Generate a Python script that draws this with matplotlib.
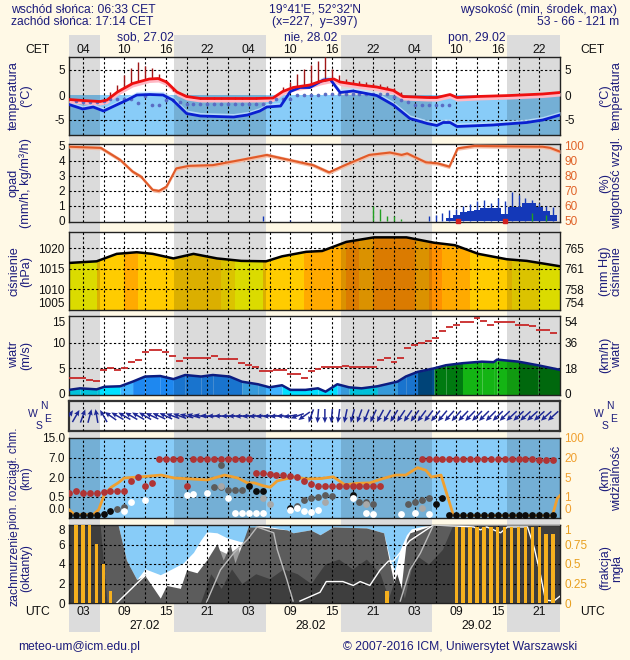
import numpy as np
import matplotlib.pyplot as plt
from matplotlib.patches import Rectangle

plt.rcParams['font.family'] = ['Liberation Sans', 'DejaVu Sans']

# ---------------- data (time in hours from 00 UTC 27.02) ----------------
nights = [(1.0, 5.55), (16.23, 29.52), (40.27, 53.48), (64.3, 72.0)]
hours = np.arange(1, 72)

# temperature panel
temp_t = [1, 3, 5.5, 6.5, 8, 10.2, 12.6, 13.9, 15.1, 16.6, 18, 20, 24, 28, 30.5, 31.9, 33.4,
          35.8, 37.3, 38.7, 39.3, 40.2, 43.1, 45.5, 47.9, 49.3, 52.8, 54.2, 56.1, 57.1, 60,
          64.7, 69.5, 72]
temp_v = [-0.9, -1.1, -1.3, -1.0, 0.6, 2.3, 3.2, 3.3, 2.6, 0.6, -0.3, -0.7, -0.7, -0.7, -0.6,
          0.7, 1.5, 2.0, 2.7, 3.1, 3.2, 2.6, 2.0, 1.6, 0.9, -0.3, -0.5, -0.5, 0.1, -0.5, -0.3,
          -0.1, 0.2, 0.5]
dew_t = [1, 3, 4.5, 6, 8, 9.4, 10.8, 12.7, 14.6, 16, 18, 20, 24.8, 26.8, 28.6, 29.6, 31.6, 33,
         34.4, 35.8, 37.8, 38.8, 40.2, 42.1, 45.5, 47.9, 50.3, 52.8, 54.2, 55.1, 56.1, 57.1,
         62.3, 67.2, 69.5, 72]
dew_v = [-1.9, -2.8, -2.4, -3.2, -1.9, -1.0, 0.0, 0.1, 0.0, -1.0, -3.7, -4.2, -4.4, -4.0, -3.2,
         -2.4, -2.2, 0.7, 1.5, 1.5, 3.0, 3.1, 0.5, 0.8, -0.1, -2.0, -4.7, -5.7, -6.1, -5.5,
         -5.5, -6.3, -6.0, -5.5, -5.0, -4.0]
dot_t = list(range(2, 57))
dot_v = [-1.2, -1.3, -1.3, -1.3, -1.2, -0.7, -0.7, -0.7, -0.7, -1.6, -0.2, -1.9, -1.9, -0.9,
         -1.0, -1.3, -1.8, -1.8, -1.8, -1.8, -1.8, -1.8, -1.8, -1.8, -1.8, -1.8, -1.8, -1.8,
         -1.3, -0.7, -0.7, -0.7, 0.0, 0.0, 0.0, 0.0, 0.3, 0.3, 0.3, 0.3, 0.3, 0.3, 0.3, 0.3,
         0.3, 0.3, -0.3, -0.9, -1.4, -2.0, -2.0, -2.0, -2.0, -2.0, -2.0]
spread_t = list(range(7, 31)) + list(range(32, 56))
spread_top = [0.7, 2.0, 4.0, 5.5, 6.5, 5.9, 5.5, 4.3, 2.4, 0.9, 0.2,
              -0.3, -0.3, -0.3, -0.3, -0.3, -0.3, -0.3, -0.3, -0.3, -0.3, -0.3, -0.3, -0.3,
              1.7, 2.7, 4.3, 5.2, 6.0, 6.7, 7.6, 5.3, 4.0, 3.2, 3.0, 2.8, 2.6, 2.4, 2.2, 1.9,
              1.5, 0.6, -0.1, -0.1, -0.1, -0.1, -0.1, -0.1]

# precipitation / humidity panel
precip = [0] * 55 + [0.18, 0.4, 0.57, 0.69, 0.75, 0.84, 0.84, 0.84, 0.45, 0.96, 0.96, 1.22,
                     1.22, 0.96, 0.69, 0.4]
precip_max = ([0] * 28 + [0.3, 0, 0, 0, 0.05] + [0] * 19 +
              [0.3, 0.4, 0.5, 0.7, 0.8, 1.0, 1.1, 1.3, 1.4, 1.2, 1.5, 1.3, 1.9, 1.7, 1.5,
               1.4, 1.2, 1.0, 0.9])
snow_t = [45, 46, 47, 48, 49, 68, 70]
snow_v = [1.0, 0.8, 0.35, 0.3, 0.1, 0.5, 0.4]
marker_t = [57.2, 64.1]
hum_t = [1, 5.6, 8.4, 10.2, 11.4, 13.1, 14.0, 15.1, 16.5, 18.3, 21.8, 25.9, 29.6, 32.8, 36.3,
         38.6, 40.9, 44.4, 47.4, 49.1, 49.9, 52.6, 54.3, 56, 57.2, 59.6, 69.5, 70.6, 72]
hum_v = [99.5, 98.7, 90.7, 82.9, 79.6, 70.7, 70, 72.9, 85, 86.7, 87.2, 90.7, 94, 90.7, 87.2,
         82.4, 87.2, 94, 95.6, 94, 95, 89.1, 88.4, 86.2, 98.4, 100, 99.5, 98.7, 96.2]

# pressure panel
pres_t = [1, 5, 7.9, 10.8, 13.1, 16.1, 19, 22.4, 25.9, 29.5, 31.8, 35.3, 37.6, 41.1, 45.1,
          49.8, 53.8, 56.8, 60.2, 64.3, 67.2, 72]
pres_v = [1016.4, 1016.8, 1018.6, 1019.0, 1018.6, 1017.5, 1018.6, 1017.5, 1016.9, 1016.8,
          1018.0, 1019.1, 1019.3, 1021.5, 1022.6, 1022.6, 1021.3, 1020.7, 1018.6, 1017.3,
          1016.9, 1015.6]
pres_class = [0, 0, 2, 2, 3, 2, 2, 2, 2, 2, 2, 1, 0, 0, 2, 2, 2, 3, 3, 3, 4, 3, 4, 4, 4, 3,
              4, 3, 3, 2, 2, 2, 1, 1, 0, 0]  # 2-hour columns from t=1

# wind panel
ws_t = [1, 2.6, 5, 6.1, 8.4, 10.2, 12, 14.2, 16.1, 17.8, 20.1, 21.8, 24.2, 26, 28.3, 30,
        31.8, 33, 35.2, 37, 38.1, 39.8, 41.5, 43.3, 45.6, 48.5, 49.7, 51.4, 53.8, 55.5, 57.9,
        60.7, 62.4, 62.9, 66, 68.8, 72]
ws_v = [0.8, 1.1, 0.9, 1.4, 1.5, 2.4, 3.4, 3.5, 2.9, 3.7, 3.4, 3.7, 3.4, 2.4, 1.9, 1.3, 1.7,
        0.8, 0.8, 1.1, 0.45, 1.9, 1.3, 1.1, 1.5, 2.4, 3.4, 4.3, 5.0, 5.6, 6.0, 6.3, 6.2, 6.7,
        6.3, 5.6, 4.7]
gust = [3.1, 3.1, 3.1, 2.7, 2.6, 4.6, 5.0, 4.7, 5.0, 6.2,
        6.7, 8.2, 8.5, 8.6, 8.2, 7.5, 6.5, 7.1, 7.1, 7.1,
        7.1, 7.4, 6.8, 6.8, 6.8, 6.0, 5.6, 5.2, 4.4, 4.5,
        4.7, 4.7, 3.9, 3.9, 3.1, 4.4, 4.8, 5.2, 5.2, 5.2,
        5.4, 5.2, 5.2, 5.2, 5.2, 6.7, 7.0, 6.2, 7.0, 9.0,
        9.5, 10.0, 10.3, 11.0, 12.2, 13.1, 13.5, 14.0, 14.0, 14.8,
        14.2, 13.5, 14.0, 14.0, 14.0, 13.5, 13.5, 13.2, 12.5, 12.5,
        11.8]
wdir = [55, 60, 70, 75, 100, 120, 145, 150, 150, 150,
        150, 150, 155, 155, 155, 160, 160, 165, 165, 170,
        175, 180, 180, 182, 182, 185, 185, 185, 185, 185,
        185, 180, 190, 200, 215, 250, 265, 270, 265, 262,
        258, 255, 250, 248, 245, 242, 240, 238, 236, 235,
        234, 233, 232, 230, 230, 228, 228, 226, 226, 225,
        225, 225, 224, 224, 223, 223, 222, 222, 222, 222,
        222]

# cloud heights / visibility panel (km)
cld_top_km = ([0.8, 0.95, 0.8, 0.8, 0.8, 0.85, 0.9, 0.9, 0.95, 1.7, 2.0, 1.3, 1.55,
               6.5, 6.5, 6.5, 6.5, 1.3] + [6.5] * 9 +
              [3.0, 3.0, 2.75, 2.5, 2.5, 2.25, 2.0, 1.7, 1.5] + [1.3] * 10 +
              [np.nan] * 5 + [6.5] * 17 + [6.25] * 3)
black_t = [1, 2, 3, 4, 5, 6, 7, 27, 28, 29, 33, 42, 54, 55] + list(range(56, 72))
black_km = [0.03] * 5 + [0.04, 0.12, 1.3, 0.9, 0.95, 0.2, 0.6, 0.3, 0.45] + [0.03] * 16
gray_t = [8, 9, 22, 23, 24, 25, 26, 34, 35, 36, 37, 38, 39, 43, 44, 45, 50, 51, 52, 53, 23]
gray_km = [0.17, 0.22, 1.2, 1.2, 1.0, 1.0, 1.0, 0.25, 0.4, 0.45, 0.5, 0.6, 0.55, 0.35, 0.35,
           0.3, 0.3, 0.35, 0.4, 0.45, 5.2]
lgray_t = [23, 29, 30, 38, 44, 52]
lgray_km = [1.3, 0.45, 0.3, 0.35, 0.3, 0.2]
white_t = [9, 10, 12, 18, 19, 21, 24, 25, 26, 27, 28, 29, 33, 34, 35, 36, 37, 42, 44, 45, 49,
           51, 53]
white_km = [0.13, 0.35, 0.42, 0.63, 0.7, 0.75, 0.45, 0.07, 0.07, 0.07, 0.07, 0.07, 0.15, 0.2,
            0.12, 0.1, 0.15, 0.45, 0.07, 0.04, 0.04, 0.07, 0.04]
vis_t = [1, 1.8, 4.5, 5.3, 6.1, 7.1, 8.1, 9, 11, 14.3, 16.2, 18.7, 21.0, 23.5, 25.4, 26.8,
         27.8, 29.1, 30.1, 31.1, 33.5, 35.4, 37.5, 39.2, 40.9, 42.6, 44.5, 46.2, 48.2, 49.7,
         51.4, 52.6, 53.4, 54.8, 55.4, 56.6, 70.9, 71.6, 72]
vis_km = [0.32, 0.07, 0.07, 0.33, 1.4, 2.9, 3.8, 4.8, 5.0, 6.5, 4.8, 4.6, 4.4, 6.5, 4.8, 3.8,
          3.8, 3.2, 2.9, 4.2, 5.0, 4.6, 4.7, 5.2, 3.4, 3.7, 3.8, 4.6, 6.5, 6.5, 12.2, 10.2,
          5.0, 6.5, 2.6, 0.02, 0.02, 0.9, 1.2]
hgt_levels_km = [0, 0.5, 2, 7, 15]
vis_levels_km = [0, 1, 5, 20, 100]

# cloud cover panel (octas)
tot_t = [1, 8.1, 9.3, 10.8, 12, 14.2, 15.6, 17.5, 19, 20, 20.9, 22.4, 23.8, 25.8, 26.8, 27.8,
         28.6, 32.5, 33.4, 35.9, 37.3, 39.2, 44, 46.5, 47.4, 48.1, 48.9, 49.8, 50.5, 53, 72]
tot_v = [8, 8, 4.4, 2.4, 3.5, 2.9, 3.4, 4.1, 5.2, 6.4, 7.3, 7.2, 6.7, 6.3, 6.2, 7.8, 8.0, 7.5,
         7.2, 7.5, 7.0, 7.8, 7.7, 7.2, 4.5, 3.3, 5.5, 7.0, 7.6, 8, 8]
mid_t = [1, 8.1, 9.3, 10.8, 12, 14.2, 15.1, 17.1, 18, 19.5, 20.9, 22.4, 23.3, 24.3, 25, 26,
         26.9, 28.6, 32.5, 33.4, 35.9, 37.3, 39.2, 44, 46.5, 47.4, 48.1, 48.9, 49.8, 50.3,
         53.7, 72]
mid_v = [8, 8, 4.4, 2.4, 2.8, 0.5, 1.8, 1.5, 3.4, 3.1, 4.4, 6.1, 4.4, 6.0, 4.1, 6.0, 7.8, 7.8,
         7.5, 7.2, 7.5, 7.0, 7.8, 7.7, 7.2, 4.0, 1.7, 0.8, 6.5, 7.2, 8, 8]
low_t = [1, 5.5, 6.5, 20, 21.5, 23, 24.5, 26, 28, 30, 32, 34, 36, 38, 40, 42, 44, 46, 47.2,
         48.4, 49.5, 51, 53, 55, 56.5, 72]
low_v = [8, 8, 0, 0, 3.0, 1.5, 3.5, 2.0, 3.0, 2.5, 3.5, 3.0, 2.0, 4.0, 4.5, 3.5, 4.5, 3.0, 0.5,
         3.0, 0.5, 5.0, 4.0, 5.5, 8, 8]
light_t = [21.5, 22.5, 24, 25.5, 26.5]
light_v = [0, 5.5, 5.0, 5.8, 0]
wline_t = [7.9, 9.5, 10.8, 12, np.nan, 34.4, 37.3, 38.2, 40.6, 42.1, 43.1, 44.5, 46, 47.2,
           47.9, 50.3, 53.7, 59.5, 60.5, 61.4, 63.4, 64.4, 67.3, 68.3, 69.2, 69.9, 71.1, 72]
wline_v = [0, 1.1, 2.0, 2.8, np.nan, 0.2, 1.1, 2.2, 2.2, 1.8, 2.2, 1.8, 3.4, 4.3, 4.3, 6.4, 8,
           7.8, 7.5, 7.8, 7.2, 7.8, 7.8, 5.6, 2.8, 0.3, 0.2, 0.7]
gline_t = [20.9, 22.9, 24.8, 26.8, 28.2, 30.6, 31.1, 32.5, 33.4, np.nan, 48.9, 50.3, 51.8,
           53.7, 72]
gline_v = [0.1, 3.4, 5.1, 6.5, 7.8, 7.2, 5.5, 2.4, 0.2, np.nan, 0.2, 3.4, 5.1, 8, 8]
fog = ([0, 1.0, 1.0, 1.0, 0.76, 0.5, 0.15] + [0] * 39 + [0.15] + [0] * 9 +
       [0.98] * 13 + [0.88, 0.88])

# labels
cet_hours = ['04', '10', '16', '22'] * 3
utc_hours = ['03', '09', '15', '21'] * 3
label_t = list(range(3, 72, 6))
day_names = ['sob, 27.02', 'nie, 28.02', 'pon, 29.02']
day_dates = ['27.02', '28.02', '29.02']
day_t = [12, 36, 60]

# ---------------- layout ----------------
W, H = 630, 660
PX0, PX1 = 69, 560
T0, T1 = 1.0, 72.0
BG = '#FFF9E6'
NAVY = '#1C1C7C'
GRID = dict(color='k', lw=0.8, ls=(0, (2, 2)), zorder=3)
TICK_FS = 8.5
LAB_FS = 9.2
HEAD_FS = 8.7


def tx(px):
    return T0 + (px - PX0) * (T1 - T0) / (PX1 - PX0)


fig = plt.figure(figsize=(6.3, 6.6), dpi=100, facecolor=BG)
bg = fig.add_axes([0, 0, 1, 1], zorder=0)
bg.set_xlim(tx(0), tx(W))
bg.set_ylim(H, 0)
bg.axis('off')
for a, b in nights:
    bg.add_patch(Rectangle((a, 35), b - a, 597, color='#DCDCDC', lw=0))


def panel(top, bottom, ylim, yticks, ylabels):
    ax = fig.add_axes([PX0 / W, 1 - bottom / H, (PX1 - PX0) / W, (bottom - top) / H], zorder=2)
    ax.set_xlim(T0, T1)
    ax.set_ylim(*ylim)
    ax.set_xticks([])
    ax.set_yticks(yticks)
    ax.set_yticklabels(ylabels)
    ax.tick_params(axis='y', length=0, labelsize=TICK_FS, pad=3, labelcolor='#111')
    for s in ax.spines.values():
        s.set_linewidth(1.0)
        s.set_color('#222')
    return ax


def right(ax, ticks, labels, color='#111'):
    tw = ax.twinx()
    tw.set_ylim(ax.get_ylim())
    tw.set_yticks(ticks)
    tw.set_yticklabels(labels)
    tw.tick_params(axis='y', length=0, labelsize=TICK_FS, pad=3, labelcolor=color)
    for s in tw.spines.values():
        s.set_visible(False)
    return tw


def edge_label(axes, idx, va):
    # keep labels of neighbouring panels apart
    for a in axes:
        a.get_yticklabels()[idx].set_va(va)


def shade(ax, grid_y, night=True):
    if night:
        for a, b in nights:
            ax.axvspan(a, b, color='k', alpha=0.14, lw=0, zorder=2)
    for t in range(3, 72, 3):
        ax.axvline(t, **GRID)
    for y in grid_y:
        ax.axhline(y, **GRID)


def side_labels(y, left, right_txt, fs=LAB_FS):
    bg.text(tx(20), y, left, rotation=90, ha='center', va='center', fontsize=fs,
            color=NAVY, linespacing=1.0)
    bg.text(tx(611), y, right_txt, rotation=90, ha='center', va='center', fontsize=fs,
            color=NAVY, linespacing=1.0)


# temperature
ax1 = panel(57, 135, (-8, 7.6), [-5, 0, 5], ['-5', '0', '5'])
right(ax1, [-5, 0, 5], ['-5', '0', '5'])
ax1.axhspan(-8, 0, color='#88CCF8', lw=0, zorder=1)
shade(ax1, [-5, 5])
ax1.fill_between(temp_t, np.array(temp_v) - 0.7, temp_v, color='#FFB8C4', lw=0, zorder=3.5)
ax1.fill_between(dew_t, dew_v, np.array(dew_v) + 0.7, color='#C4E4FF', alpha=0.8, lw=0,
                 zorder=3.4)
ax1.vlines(spread_t, np.interp(spread_t, temp_t, temp_v), spread_top, color='#A01818', lw=1.0,
           zorder=4)
ax1.scatter(dot_t, dot_v, s=7, color='#5A6CC4', zorder=4.5, lw=0)
ax1.plot(dew_t, dew_v, color='#0A20D0', lw=2, zorder=5)
ax1.plot(temp_t, temp_v, color='#EE1010', lw=2, zorder=6)
side_labels(96, 'temperatura\n(°C)', '(°C)\ntemperatura')

# precipitation / humidity
ax2 = panel(144, 222, (-0.07, 5.13), [0, 1, 2, 3, 4, 5], ['0', '1', '2', '3', '4', '5'])
shade(ax2, [1, 2, 3, 4])
ax2.bar(hours, precip, width=1.0, color='#1438B8', lw=0, zorder=4)
ax2.vlines(hours, 0, precip_max, color='#1438B8', lw=1, zorder=4)
ax2.vlines(snow_t, 0, snow_v, color='#22A022', lw=1, zorder=4)
ax2.plot(marker_t, [0.03, 0.03], 's', ms=2.5, color='#D02020', zorder=6, clip_on=False)
tw2 = right(ax2, [50, 60, 70, 80, 90, 100], ['50', '60', '70', '80', '90', '100'], '#E0642A')
tw2.set_ylim(49.3, 101.3)
tw2.fill_between(hum_t, np.array(hum_v) - 1.3, np.array(hum_v) + 1.3, color='#F6BCA4', lw=0)
tw2.plot(hum_t, hum_v, color='#E05A28', lw=1.5)
side_labels(183, 'opad\n(mm/h, kg/m³/h)', '(%)\nwilgotność wzgl.')

# pressure
ax3 = panel(232, 310, (1005, 1023.9), [1005, 1010, 1015, 1020], ['1005', '1010', '1015', '1020'])
tw3 = right(ax3, [1005, 1010, 1015, 1020], ['754', '758', '761', '765'])
edge_label([ax3, tw3], 0, 'bottom')
pal = ['#FFFF00', '#FFE400', '#FFCC00', '#FFAA00', '#FF9000']
for i, c in enumerate(pres_class):
    ax3.axvspan(1 + 2 * i, 3 + 2 * i, color=pal[c], lw=0, zorder=1)
ax3.fill_between(pres_t, pres_v, 1024, color='white', lw=0, zorder=1.5)
shade(ax3, [1010, 1015, 1020])
ax3.plot(pres_t, pres_v, color='k', lw=1.8, zorder=5)
side_labels(271, 'ciśnienie\n(hPa)', '(mm Hg)\nciśnienie')

# wind
ax4 = panel(316, 395, (-0.2, 15.2), [0, 5, 10, 15], ['0', '5', '10', '15'])
tw4 = right(ax4, [0, 5, 10, 15], ['0', '18', '36', '54'])
edge_label([ax4, tw4], -1, 'top')
wcols = ['#00E1FF', '#40B4FF', '#1E88F0', '#00508C', '#007A10', '#14B414']
wbins = [1.5, 2.2, 4.0, 5.0, 6.0]
for i in range(len(ws_t) - 1):
    c = wcols[np.digitize((ws_v[i] + ws_v[i + 1]) / 2, wbins)]
    ax4.fill_between(ws_t[i:i + 2], -0.2, ws_v[i:i + 2], color=c, lw=0, zorder=1)
shade(ax4, [5, 10])
ax4.hlines(gust, hours - 0.5, hours + 0.5, color='#C82828', lw=1.3, zorder=5)
ax4.plot(ws_t, ws_v, color='#0C1C80', lw=1.8, zorder=6)
side_labels(355, 'wiatr\n(m/s)', '(km/h)\nwiatr')

# wind direction
ax5 = panel(401, 431, (-1, 1), [], [])
shade(ax5, [])
for s in ax5.spines.values():
    s.set_linewidth(1.6)
    s.set_color('#333')
rad = np.radians(wdir)
ax5.quiver(hours, np.zeros(len(hours)), np.cos(rad), np.sin(rad), angles='uv',
           scale_units='dots', scale=1 / 14, units='dots', width=1.5, headwidth=3.5,
           headlength=4, headaxislength=3.5, pivot='middle', color='#1E2896', zorder=5)
for cx in (41, 607):
    for s_, dx, dy in (('W', -8, -1), ('N', 3, -9), ('E', 7, 4), ('S', -2, 11)):
        bg.text(tx(cx + dx), 415 + dy, s_, ha='center', va='center', fontsize=7.5, color=NAVY)

# cloud heights / visibility
ax6 = panel(438, 518, (-0.1, 4.0), [0, 1, 2, 3, 4], ['0.0', '0.5', '2.0', '7.0', '15.0'])
tw6 = right(ax6, [0, 1, 2, 3, 4], ['0', '1', '5', '20', '100'], '#F0A030')
edge_label([ax6, tw6], 0, 'bottom')
ax6.set_facecolor('#88CCF8')
shade(ax6, [1, 2, 3])


def hlev(km):
    return np.interp(km, hgt_levels_km, [0, 1, 2, 3, 4])


ax6.plot(vis_t, np.interp(vis_km, vis_levels_km, [0, 1, 2, 3, 4]), color='#F0A030', lw=2,
         zorder=4)
ax6.scatter(hours, hlev(np.array(cld_top_km)), s=24, color='#B03434', lw=0, zorder=5)
ax6.scatter(gray_t, hlev(gray_km), s=24, color='#5C5C5C', lw=0, zorder=5)
ax6.scatter(lgray_t, hlev(lgray_km), s=24, color='#A8A8A8', lw=0, zorder=5)
ax6.scatter(black_t, hlev(black_km), s=24, color='#0C0C0C', lw=0, zorder=5)
ax6.scatter(white_t, hlev(white_km), s=24, color='white', lw=0, zorder=5)
bg.text(tx(20), 478, 'pion. rozciągł. chm.\n(km)', rotation=90, ha='center', va='center',
        fontsize=8.5, color=NAVY, linespacing=1.0)
bg.text(tx(611), 478, '(km)\nwidzialność', rotation=90, ha='center', va='center',
        fontsize=LAB_FS, color=NAVY, linespacing=1.0)

# cloud cover / fog
ax7 = panel(525, 603, (0, 8), [0, 2, 4, 6, 8], ['0', '2', '4', '6', '8'])
ax7.set_facecolor('#88CCF8')
ax7.fill_between(tot_t, 0, tot_v, color='white', lw=0, zorder=1.1)
ax7.fill_between(light_t, 0, light_v, color='#9C9C9C', lw=0, zorder=1.2)
ax7.fill_between(mid_t, 0, mid_v, color='#5C5C5C', lw=0, zorder=1.3)
ax7.fill_between(low_t, 0, low_v, color='#3E3E3E', lw=0, zorder=1.4)
shade(ax7, [2, 4, 6], night=False)
ax7.plot(wline_t, wline_v, color='white', lw=1, zorder=4)
ax7.plot(gline_t, gline_v, color='#BBBBBB', lw=1, zorder=4)
tw7 = right(ax7, [0, 0.25, 0.5, 0.75, 1], ['0', '0.25', '0.5', '0.75', '1'], '#E8A020')
tw7.set_ylim(0, 1)
edge_label([ax7, tw7], -1, 'top')
tw7.bar(hours, fog, width=0.5, color='#F5B01E', lw=0, zorder=5)
side_labels(568, 'zachmurzenie\n(oktanty)', '(frakcja)\nmgła', fs=8.8)

# ---------------- header / footer ----------------
fs = HEAD_FS
bg.text(tx(11), 10, 'wschód słońca: 06:33 CET', ha='left', va='center', fontsize=fs, color=NAVY)
bg.text(tx(11), 22, 'zachód słońca: 17:14 CET', ha='left', va='center', fontsize=fs, color=NAVY)
bg.text(tx(315), 10, "19°41'E, 52°32'N", ha='center', va='center', fontsize=fs, color=NAVY)
bg.text(tx(315), 22, '(x=227,  y=397)', ha='center', va='center', fontsize=fs, color=NAVY)
bg.text(tx(617), 10, 'wysokość (min, środek, max)', ha='right', va='center', fontsize=fs,
        color=NAVY)
bg.text(tx(578), 22, '53 - 66 - 121 m', ha='center', va='center', fontsize=fs, color=NAVY)
for t, s in zip(day_t, day_names):
    bg.text(t, 38, s, ha='center', va='center', fontsize=fs, color=NAVY)
for t, s, u in zip(label_t, cet_hours, utc_hours):
    bg.text(t, 50, s, ha='center', va='center', fontsize=fs, color='#111')
    bg.text(t, 612, u, ha='center', va='center', fontsize=fs, color='#111')
for t, s in zip(day_t, day_dates):
    bg.text(t, 626, s, ha='center', va='center', fontsize=fs, color='#111')
for x in (38, 592):
    bg.text(tx(x), 50, 'CET', ha='center', va='center', fontsize=fs, color='#111')
    bg.text(tx(x), 612, 'UTC', ha='center', va='center', fontsize=fs, color='#111')
bg.text(tx(18), 647, 'meteo-um@icm.edu.pl', ha='left', va='center', fontsize=fs, color=NAVY)
bg.text(tx(343), 647, '© 2007-2016 ICM, Uniwersytet Warszawski', ha='left', va='center',
        fontsize=fs, color=NAVY)

fig.savefig('out.png', dpi=100, facecolor=BG)
